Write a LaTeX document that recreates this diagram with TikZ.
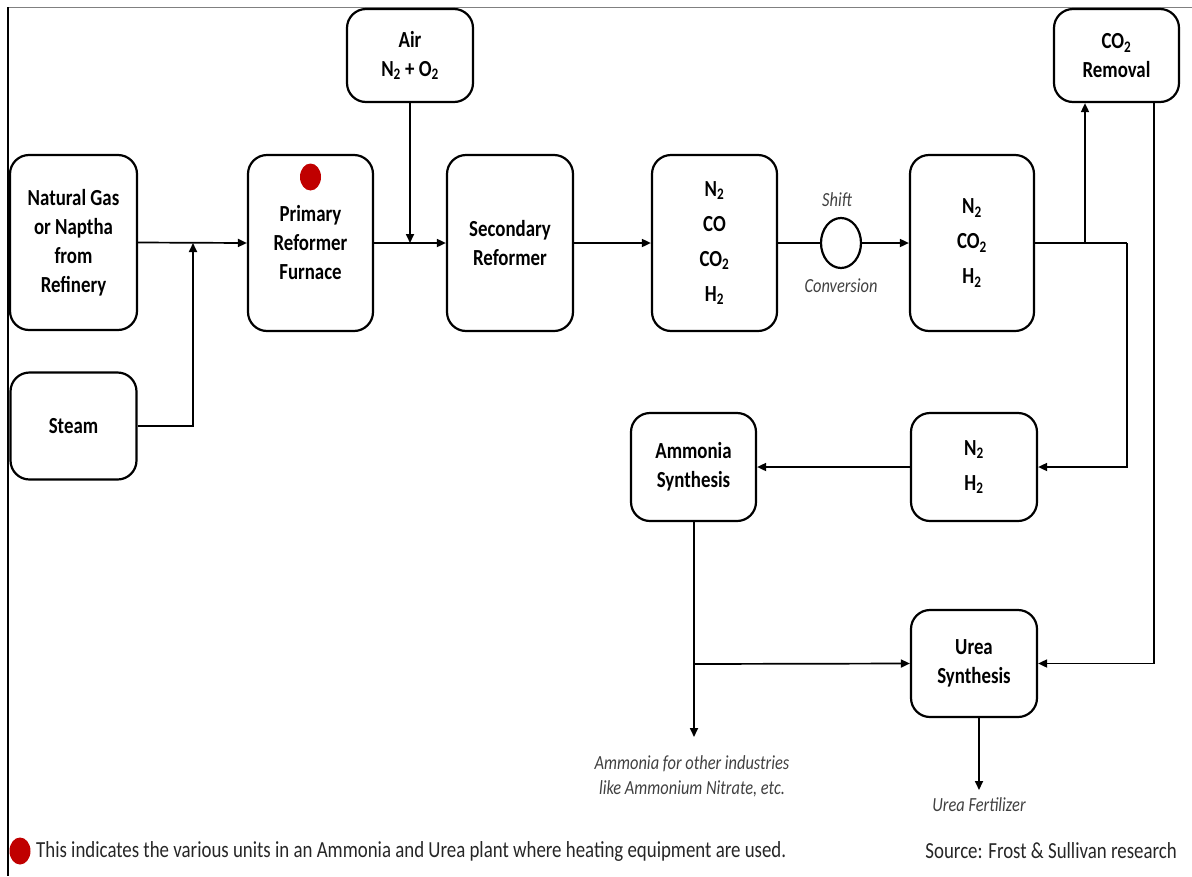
\documentclass[tikz,border=0pt]{standalone}
\usepackage{fontspec}
\setmainfont{Carlito}[FakeStretch=0.82]
\usetikzlibrary{arrows.meta,shapes.geometric}
\definecolor{dotred}{HTML}{C00000}
\definecolor{labgray}{HTML}{404040}
\tikzset{
  box/.style={draw=black, line width=2.2pt, rounded corners=19pt, align=center,
    font=\bfseries\fontsize{23}{29}\selectfont, inner sep=0pt},
  chem/.style={box, font=\bfseries\fontsize{23}{35}\selectfont},
  arr/.style={line width=1.7pt, -{Triangle[length=9pt,width=8pt]}},
  ln/.style={line width=1.7pt},
  lab/.style={font=\itshape\fontsize{20}{25}\selectfont, text=labgray, align=center, inner sep=0pt},
  heat/.style={ellipse, fill=dotred, minimum width=21pt, minimum height=27pt, inner sep=0pt},
  foot/.style={inner sep=0pt, font=\fontsize{23}{27}\selectfont, text=black!85},
}
\newcommand{\sbt}{\textsubscript{2}}
\begin{document}
\begin{tikzpicture}[x=1pt,y=-1pt]
\useasboundingbox (0,0) rectangle (1192,876);
\draw[gray, line width=1pt] (7,7) -- (1192,7);
\draw[black, line width=1.2pt] (8,7) -- (8,876);

\node[box, minimum width=127pt, minimum height=175pt] (ng) at (73.5,242.5) {Natural Gas\\or Naptha\\from\\Refinery};
\node[box, minimum width=126pt, minimum height=107pt] (steam) at (73.5,426) {Steam};
\node[box, minimum width=125pt, minimum height=176pt] (prim) at (310.5,243) {Primary\\Reformer\\Furnace};
\node[heat] (dot) at (310.5,177) {};
\node[chem, minimum width=126pt, minimum height=93pt, font=\bfseries\fontsize{23}{29}\selectfont] (air) at (410,55.5) {Air\\N\sbt{} + O\sbt};
\node[box, minimum width=126pt, minimum height=176pt] (sec) at (510,243) {Secondary\\Reformer};
\node[chem, minimum width=125pt, minimum height=176pt] (mix1) at (714.5,243) {N\sbt\\CO\\CO\sbt\\H\sbt};
\node[ellipse, draw=black, line width=2.2pt, minimum width=40pt, minimum height=50pt, inner sep=0pt] (shift) at (841,243) {};
\node[lab] (shiftl) at (837,200) {Shift};
\node[lab] (convl) at (841,286) {Conversion};
\node[chem, minimum width=124pt, minimum height=176pt] (mix2) at (972,243) {N\sbt\\CO\sbt\\H\sbt};
\node[box, minimum width=125pt, minimum height=93pt] (co2r) at (1116.5,55.5) {CO\sbt\\Removal};
\node[box, minimum width=125pt, minimum height=108pt] (amm) at (693.5,467) {Ammonia\\Synthesis};
\node[chem, minimum width=126pt, minimum height=108pt] (nh) at (974,467) {N\sbt\\H\sbt};
\node[box, minimum width=126pt, minimum height=107pt] (urea) at (974,663.5) {Urea\\Synthesis};

\node[lab] (ammout) at (692,776) {Ammonia for other industries\\like Ammonium Nitrate, etc.};
\node[lab] (ureaout) at (979,805) {Urea Fertilizer};

\coordinate (j1) at (193,243);
\coordinate (j2) at (410,243);
\coordinate (j3) at (1085,243);
\coordinate (j4) at (1127,243);
\coordinate (c4) at (1154,102);
\coordinate (j5) at (694,664);
\coordinate (a1) at (694,737);
\coordinate (u0) at (979,717);
\coordinate (u1) at (979,790);

\draw[arr] (ng.east) -- (prim.west);
\draw[arr] (steam.east) -| (j1);
\draw[arr] (air.south) -- (j2);
\draw[arr] (prim.east) -- (sec.west);
\draw[arr] (sec.east) -- (mix1.west);
\draw[ln] (mix1.east) -- (shift.west);
\draw[arr] (shift.east) -- (mix2.west);
\draw[ln] (mix2.east) -- (j4);
\draw[arr] (j4) |- (nh.east);
\draw[arr] (j3) -- (j3 |- co2r.south);
\draw[arr] (c4) |- (urea.east);
\draw[arr] (nh.west) -- (amm.east);
\draw[arr] (amm.south -| a1) -- (a1);
\draw[arr] (j5) -- (urea.west);
\draw[arr] (u0) -- (u1);

\node[heat] (fdot) at (20,851) {};
\node[foot, anchor=west] (note) at (36,851) {This indicates the various units in an Ammonia and Urea plant where heating equipment are used.};
\node[foot, anchor=east] (src) at (1177,851) {Source: Frost \& Sullivan research};
\end{tikzpicture}
\end{document}
